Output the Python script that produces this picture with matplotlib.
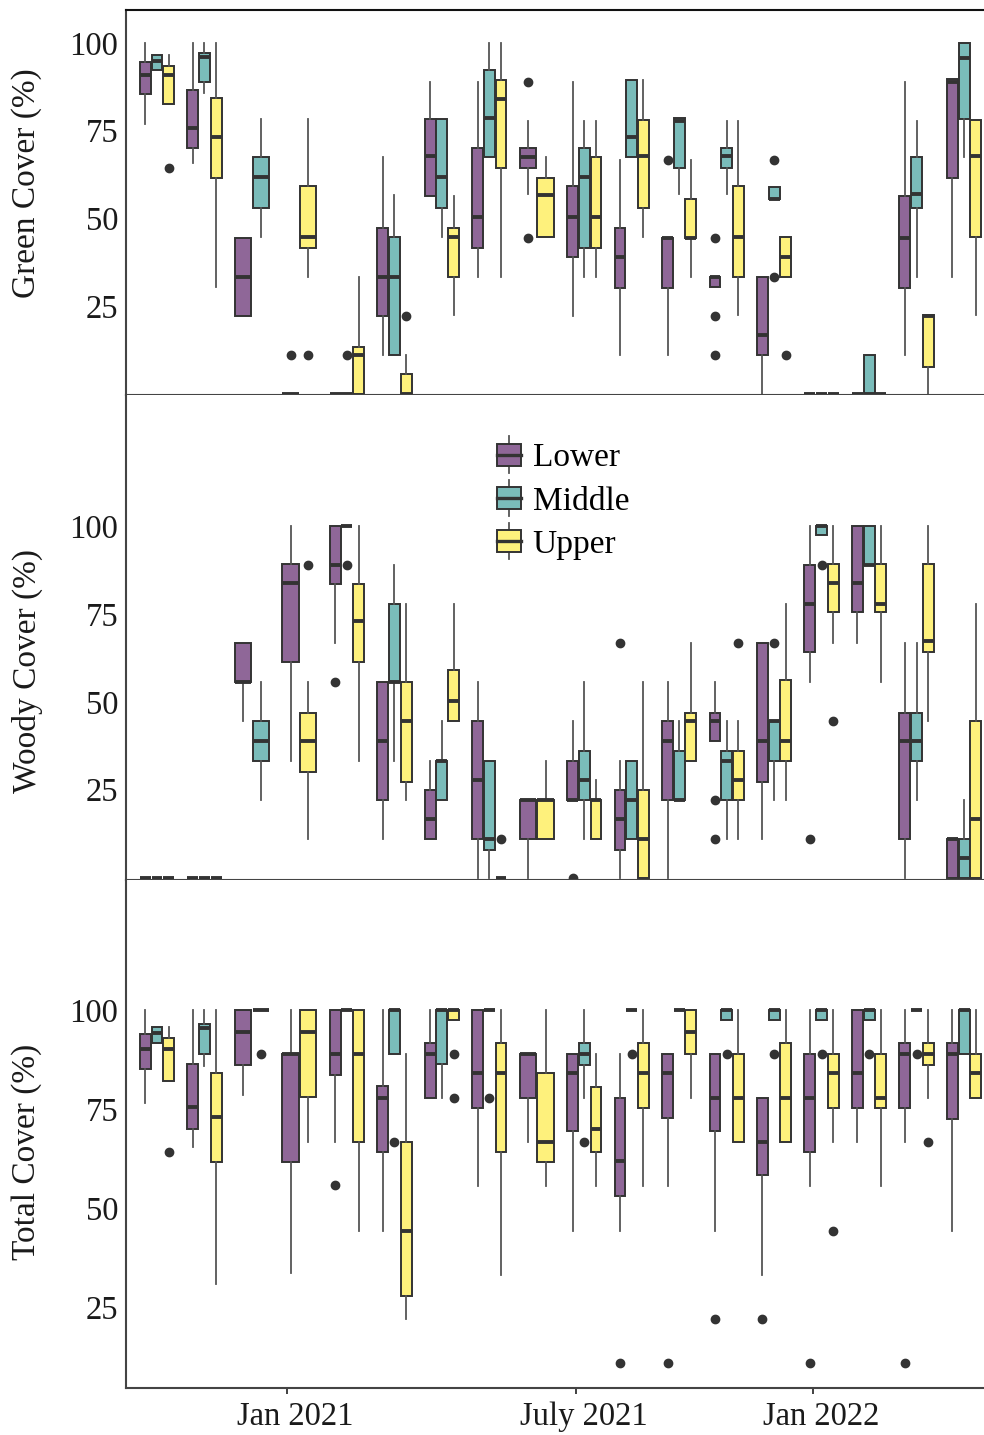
import matplotlib
matplotlib.use("Agg")
import matplotlib.pyplot as plt
from matplotlib.patches import Rectangle
from matplotlib.lines import Line2D
from matplotlib.legend_handler import HandlerBase
from matplotlib.transforms import ScaledTranslation

plt.rcParams['font.family'] = ['Liberation Serif', 'DejaVu Serif']

# sampling dates are plotted as equally spaced slots 0..17
zones = ["Lower", "Middle", "Upper"]
zone_colors = ["#8F6798", "#7ABCBA", "#FEF17C"]
date_ticks = [2.74, 8.83, 13.82]
date_labels = ["Jan 2021", "July 2021", "Jan 2022"]

# each entry: (q1, median, q3, whisker low, whisker high, outliers); None = not sampled
Z = (0, 0, 0, 0, 0, [])

green_lower = [
    (85.4, 90.9, 94.7, 77, 100, []), (70.2, 75.7, 86.6, 65.9, 100, []),
    (22.2, 33.3, 44.4, 22.2, 44.4, []), (0, 0, 0, 0, 0, [11.1]), Z,
    (22.2, 33.3, 47.4, 11.1, 67.4, []), (56.4, 67.9, 78.2, 56.4, 88.9, []),
    (41.5, 50.5, 70.2, 33.3, 88.9, []), (64.3, 67.6, 70.2, 56.9, 77.8, [88.9, 44.4]),
    (38.9, 50.5, 59.3, 22.2, 88.9, []), (30.1, 38.9, 47.4, 11.1, 66.7, []),
    (30.1, 44.4, 44.4, 11.1, 44.4, [66.7]), (30.6, 33.3, 33.3, 30.6, 33.3, [44.4, 22.2, 11.1]),
    (11.1, 16.7, 33.3, 0, 33.3, []), Z, Z,
    (30.1, 44.4, 56.4, 11.1, 88.9, []), (61.4, 88.9, 89.8, 33.3, 89.8, []),
]
green_middle = [
    (92.3, 94.9, 96.6, 92.3, 96.6, []), (89, 95.9, 97.1, 85.8, 100, []),
    (52.9, 61.9, 67.4, 44.8, 78.2, []), None, (0, 0, 0, 0, 0, [11.1]),
    (11.1, 33.3, 44.6, 11.1, 56.7, []), (52.9, 61.9, 78.2, 44.8, 78.2, []),
    (67.4, 78.5, 92.3, 67.4, 100, []), None,
    (41.5, 61.9, 70.2, 33.3, 77.8, []), (67.4, 73.3, 89.5, 67.4, 89.5, []),
    (64.3, 77.8, 78.5, 56.9, 78.5, []), (64.3, 67.9, 70.2, 56.9, 77.8, []),
    (55.6, 55.6, 58.9, 55.6, 58.9, [66.7, 33.3]), Z, (0, 0, 11.1, 0, 11.1, []),
    (52.9, 56.9, 67.4, 33.3, 77.8, []), (78.2, 95.6, 100, 67.6, 100, []),
]
green_upper = [
    (82.5, 90.9, 93.5, 82.5, 96.6, [64.5]), (61.4, 73.3, 84.4, 30.6, 100, []),
    None, (41.5, 44.8, 59.3, 33.3, 78.2, [11.1]), (0, 11.1, 13.5, 0, 33.3, []),
    (0, 0, 5.7, 0, 11.1, [22.2]), (33.3, 44.8, 47.4, 22.6, 56.4, []),
    (64.3, 84.1, 89.5, 33.3, 100, []), (44.6, 56.7, 61.4, 44.6, 67.4, []),
    (41.5, 50.5, 67.4, 33.3, 77.8, []), (52.9, 67.9, 78.1, 44.8, 89.5, []),
    (44.4, 44.4, 55.6, 33.3, 66.7, []), (33.3, 44.8, 59.3, 22.6, 77.8, []),
    (33.3, 39.1, 44.6, 33.3, 44.6, [11.1]), Z, Z,
    (7.7, 22.2, 22.6, 0, 22.6, []), (44.6, 67.9, 78.1, 22.6, 78.1, []),
]

woody_lower = [
    Z, Z, (55.6, 55.6, 66.7, 44.4, 66.7, []), (61.3, 83.7, 89.2, 33.3, 100, []),
    (83.5, 88.9, 100, 66.7, 100, [55.6]), (22.2, 38.9, 55.6, 11.1, 55.6, []),
    (11.1, 16.7, 25, 11.1, 33.3, []), (11.1, 27.8, 44.4, 0, 55.6, []),
    (11.1, 22.2, 22.2, 0, 22.2, []), (22.2, 22.2, 33.3, 22.2, 44.4, [0]),
    (7.8, 16.7, 25, 0, 33.3, [66.7]), (22.2, 38.9, 44.4, 0, 55.6, []),
    (38.9, 44.4, 46.9, 38.9, 55.6, [22.2, 11.1]), (27.1, 38.9, 66.7, 11.1, 66.7, []),
    (64.1, 77.8, 88.9, 55.6, 100, [11.1]), (75.5, 83.7, 100, 66.7, 100, []),
    (11.1, 38.9, 46.9, 0, 66.7, []), (0, 11.1, 11.1, 0, 11.1, []),
]
woody_middle = [
    Z, Z, (33.3, 38.9, 44.4, 22.2, 55.6, []), None,
    (100, 100, 100, 100, 100, [88.9]), (55.6, 55.6, 77.8, 33.3, 88.9, []),
    (22.2, 33.3, 33.3, 22.2, 44.4, []), (7.8, 11.1, 33.3, 0, 33.3, []),
    None, (22.2, 27.8, 35.9, 11.1, 55.6, []),
    (11.1, 22.2, 33.3, 11.1, 33.3, []), (22.2, 22.2, 35.9, 22.2, 44.4, []),
    (22.2, 33.3, 35.9, 11.1, 44.4, []), (33.3, 44.4, 44.4, 22.2, 44.4, [66.7]),
    (97.6, 100, 100, 97.6, 100, [88.9]), (88.9, 88.9, 100, 88.9, 100, []),
    (33.3, 38.9, 46.9, 22.2, 66.7, []), (0, 5.5, 11.1, 0, 22.2, []),
]
woody_upper = [
    Z, Z, None, (29.9, 38.9, 46.9, 11.1, 55.6, [88.9]),
    (61.3, 73, 83.5, 33.3, 100, []), (27.1, 44.4, 55.6, 22.2, 77.8, []),
    (44.4, 50.2, 59.1, 44.4, 77.8, []), (0, 0, 0, 0, 0, [11.1]),
    (11.1, 22.2, 22.2, 11.1, 33.3, []), (11.1, 22.2, 22.2, 11.1, 27.8, []),
    (0, 11.1, 25, 0, 55.6, []), (33.3, 44.4, 46.9, 33.3, 66.7, []),
    (22.2, 27.8, 35.9, 11.1, 44.4, [66.7]), (33.3, 38.9, 56.2, 22.2, 77.8, []),
    (75.5, 83.7, 89.2, 66.7, 100, [44.4]), (75.5, 77.8, 89.2, 55.6, 100, []),
    (64.1, 67.3, 89.2, 44.4, 100, []), (0, 16.7, 44.4, 0, 77.8, []),
]

total_lower = [
    (85.1, 90.2, 93.9, 76.5, 100, []), (70, 75.5, 86.3, 65.4, 100, []),
    (86.2, 94.5, 100, 78.6, 100, []), (61.6, 88.9, 88.9, 33.8, 100, []),
    (83.7, 88.9, 100, 66.7, 100, [56]), (64.1, 77.8, 80.9, 44.4, 100, []),
    (77.8, 88.9, 91.8, 77.8, 100, []), (75.3, 84.1, 100, 55.6, 100, []),
    (77.8, 88.9, 88.9, 66.7, 88.9, []), (69.6, 84.1, 88.9, 44.4, 88.9, []),
    (53.1, 61.9, 77.8, 44.4, 88.9, [11.1]), (72.7, 84.1, 88.9, 55.6, 88.9, [11.1]),
    (69.6, 77.8, 88.9, 44.4, 88.9, [22.2]), (58.5, 66.7, 77.8, 33.3, 77.8, [22.2]),
    (64.1, 77.8, 88.9, 55.6, 100, [11.1]), (75.3, 84.1, 100, 66.7, 100, []),
    (75.3, 88.9, 91.8, 66.7, 100, [11.1]), (72.5, 88.9, 91.8, 44.4, 100, []),
]
total_middle = [
    (91.8, 94.3, 95.8, 91.8, 95.8, []), (88.9, 95.4, 96.5, 85.8, 100, []),
    (100, 100, 100, 100, 100, [88.9]), None, (100, 100, 100, 100, 100, []),
    (88.9, 100, 100, 88.9, 100, [66.7]), (86.4, 100, 100, 77.8, 100, []),
    (100, 100, 100, 100, 100, [77.8]), None, (86.2, 88.9, 91.8, 77.8, 100, [66.7]),
    (100, 100, 100, 100, 100, [88.9]), (100, 100, 100, 100, 100, []),
    (97.5, 100, 100, 97.5, 100, [88.9]), (97.5, 100, 100, 97.5, 100, [88.9]),
    (97.5, 100, 100, 97.5, 100, [88.9]), (97.5, 100, 100, 97.5, 100, [88.9]),
    (100, 100, 100, 100, 100, [88.9]), (88.9, 100, 100, 88.9, 100, []),
]
total_upper = [
    (82.2, 90.2, 92.9, 82.2, 95.8, [64.1]), (61.6, 73, 84.2, 30.8, 100, []),
    None, (78.2, 94.5, 100, 66.7, 100, []), (66.7, 88.9, 100, 44.4, 100, []),
    (27.9, 44.4, 66.7, 22.2, 88.9, []), (97.5, 100, 100, 97.5, 100, [88.9, 77.8]),
    (64.1, 84.1, 91.8, 33.3, 100, []), (61.6, 66.7, 84.2, 55.6, 100, []),
    (64.1, 69.9, 80.7, 55.6, 88.9, []), (75.3, 84.1, 91.8, 55.6, 100, []),
    (88.9, 94.5, 100, 77.8, 100, []), (66.7, 77.8, 88.9, 66.7, 100, []),
    (66.7, 77.8, 91.8, 66.7, 100, []), (75.3, 84.1, 88.9, 66.7, 100, [44.4]),
    (75.3, 77.8, 88.9, 55.6, 100, []), (86.2, 88.9, 91.8, 77.8, 100, [66.7]),
    (77.8, 84.1, 88.9, 77.8, 100, []),
]

EDGE = "#333333"
W, H = 984, 1435
fig = plt.figure(figsize=(W / 100, H / 100), dpi=100)


def px_axes(top, bottom):
    return fig.add_axes([126 / W, 1 - bottom / H, 1 - 126 / W, (bottom - top) / H])


def draw_panel(ax, series):
    n_dates = len(series[0])
    for i in range(n_dates):
        present = [k for k in range(3) if series[k][i] is not None]
        slot = 0.74 / len(present)
        for j, k in enumerate(present):
            q1, med, q3, lo, hi, fl = series[k][i]
            pos = i + (j - (len(present) - 1) / 2) * slot
            st = dict(q1=q1, med=med, q3=q3, whislo=lo, whishi=hi, fliers=fl)
            art = ax.bxp([st], positions=[pos], widths=slot * 0.93,
                         patch_artist=True, showcaps=False, manage_ticks=False,
                         boxprops=dict(edgecolor=EDGE, linewidth=1.4),
                         whiskerprops=dict(color="#555555", linewidth=1.3),
                         medianprops=dict(color=EDGE, linewidth=2.8, solid_capstyle="butt"),
                         flierprops=dict(marker="o", markerfacecolor=EDGE,
                                         markeredgecolor=EDGE, markersize=6))
            art["boxes"][0].set_facecolor(zone_colors[k])
    ax.set_xlim(-0.653, 17.42)
    ax.set_yticks([25, 50, 75, 100])
    ax.tick_params(axis="y", length=0, pad=5.5, labelsize=23.5, labelcolor="#1a1a1a")
    for s in ["right", "top"]:
        ax.spines[s].set_visible(False)
    for s in ["left", "bottom"]:
        ax.spines[s].set_color("#444444")
        ax.spines[s].set_linewidth(1.5)


ax1 = px_axes(10, 395)
draw_panel(ax1, [green_lower, green_middle, green_upper])
ax1.set_ylim(-0.3, 109.4)
ax1.spines["top"].set_visible(True)
ax1.spines["top"].set_color("#111111")
ax1.spines["top"].set_linewidth(1.5)

ax2 = px_axes(395, 880)
draw_panel(ax2, [woody_lower, woody_middle, woody_upper])
ax2.set_ylim(-0.7, 137.3)

ax3 = px_axes(880, 1388)
draw_panel(ax3, [total_lower, total_middle, total_upper])
ax3.set_ylim(4.7, 132.8)

for ax in (ax1, ax2):
    ax.set_xticks([])
ax3.set_xticks(date_ticks)
ax3.set_xticklabels(date_labels)
ax3.tick_params(axis="x", length=4, width=1.3, color="#333333", pad=6,
                labelsize=23.5, labelcolor="#1a1a1a")
shift = ScaledTranslation(8 / 100, 0, fig.dpi_scale_trans)
for lab in ax3.get_xticklabels():
    lab.set_transform(lab.get_transform() + shift)

for text, yc in [("Green Cover (%)", 183), ("Woody Cover (%)", 671), ("Total Cover (%)", 1152)]:
    fig.text(27 / W, 1 - yc / H, text, rotation=90, ha="center", va="center",
             fontsize=24, color="#1a1a1a")


class BoxHandler(HandlerBase):
    def create_artists(self, legend, orig, xdescent, ydescent, width, height, fontsize, trans):
        cx = width / 2 - xdescent
        bw = width
        y0 = -ydescent
        whisk = Line2D([cx, cx], [y0 - height * 0.35, y0 + height * 1.35],
                       color="#555555", lw=1.3, transform=trans)
        rect = Rectangle((cx - bw / 2, y0), bw, height, facecolor=orig.get_facecolor(),
                         edgecolor=EDGE, lw=1.4, transform=trans)
        med = Line2D([cx - bw / 2, cx + bw / 2], [y0 + height / 2] * 2,
                     color=EDGE, lw=2.4, transform=trans)
        return [whisk, rect, med]


handles = [Rectangle((0, 0), 1, 1, facecolor=c) for c in zone_colors]
fig.legend(handles, zones, handler_map={Rectangle: BoxHandler()},
           loc="upper left", bbox_to_anchor=(497 / W, 1 - 443 / H),
           frameon=False, borderpad=0, borderaxespad=0, fontsize=24,
           handlelength=0.72, handleheight=0.62, handletextpad=0.35,
           labelspacing=0.38)

fig.savefig("out.png", dpi=100)
